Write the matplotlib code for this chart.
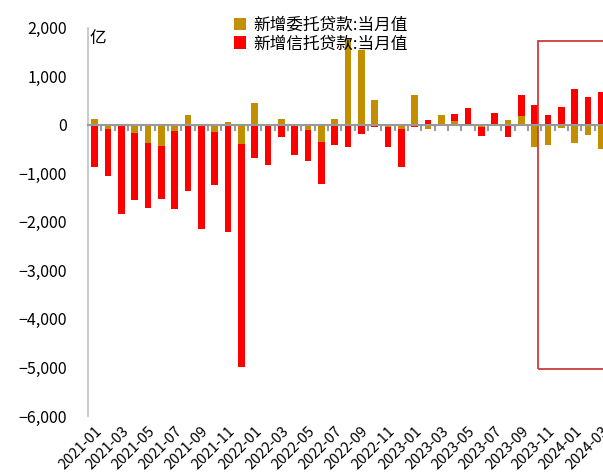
import matplotlib
matplotlib.use("Agg")
import matplotlib.pyplot as plt
from matplotlib.patches import Rectangle
from matplotlib.ticker import FuncFormatter
import numpy as np

plt.rcParams['font.family'] = ['Noto Sans CJK SC', 'DejaVu Sans']
plt.rcParams['axes.unicode_minus'] = True

# monthly values, 2021-01 .. 2024-03 (亿元)
months = [f"{y}-{m:02d}" for y in (2021, 2022, 2023) for m in range(1, 13)] + \
         ["2024-01", "2024-02", "2024-03"]

entrusted = [115, -80, -10, -179, -378, -447, -124, 200, 5, -158, 55, -398,
             447, -35, 124, -12, -103, -350, 117, 1773, 1533, 502, -55, -82,
             604, -82, 192, 82, 0, -55, 0, 103, 186, -467, -412, -69,
             -385, -206, -495]

trust = [-860, -970, -1830, -1367, -1340, -1079, -1615, -1361, -2150, -1093, -2212, -4585,
         -687, -804, -254, -610, -653, -866, -412, -467, -193, -55, -405, -778,
         -55, 89, -35, 145, 344, -179, 240, -247, 433, 412, 206, 364,
         735, 577, 680]

legend_labels = ["新增委托贷款:当月值", "新增信托贷款:当月值"]
gold = "#C28F00"
red = "#FF0000"

# highlight box (x in category units, y in data units)
box_x0, box_y0, box_y1 = 33.25, -5040, 1730

x = np.arange(len(months))
ent = np.array(entrusted, dtype=float)
tru = np.array(trust, dtype=float)
# stacked: same-sign values pile on top of each other
tru_bottom = np.where(np.sign(tru) == np.sign(ent), ent, 0)

fig = plt.figure(figsize=(6.03, 4.75), dpi=100)
ax = fig.add_axes([88 / 603, 59 / 475, 520 / 603, 388.3 / 475])

ax.bar(x, ent, width=0.5, color=gold, edgecolor="none", label=legend_labels[0], zorder=2)
ax.bar(x, tru, width=0.5, bottom=tru_bottom, color=red, edgecolor="none",
       label=legend_labels[1], zorder=2)

ax.set_xlim(-0.5, len(months) - 0.5)
ax.set_ylim(-6000, 2000)
ax.set_yticks(np.arange(-6000, 2001, 1000))
ax.yaxis.set_major_formatter(FuncFormatter(lambda v, p: f"{int(v):,}".replace("-", "\u2212")))
ax.tick_params(axis="y", length=0, labelsize=11.5, pad=15)

# zero line with category-boundary ticks pointing down
ax.spines["bottom"].set_position(("data", 0))
ax.spines["bottom"].set_color("#999999")
ax.spines["bottom"].set_linewidth(1.5)
ax.spines["bottom"].set_zorder(3)
ax.set_xticks([])
ax.set_xticks(x[:-1] + 0.5, minor=True)
ax.tick_params(axis="x", which="minor", length=4, width=1.5, color="#999999", direction="out")

for s in ["top", "right"]:
    ax.spines[s].set_visible(False)
ax.spines["left"].set_color("#c0c0c0")
ax.spines["left"].set_linewidth(1.2)

# month labels at the bottom of the plot
lab = ax.secondary_xaxis("bottom")
lab.set_xticks(x[::2])
lab.set_xticklabels(months[::2], rotation=45, ha="right", rotation_mode="anchor", fontsize=10.5)
lab.tick_params(length=0, pad=6)
lab.spines["bottom"].set_visible(False)

ax.add_patch(Rectangle((box_x0, box_y0), 10, box_y1 - box_y0, fill=False,
                       edgecolor="#D03A3A", linewidth=1.3, zorder=3, clip_on=False))

ax.text(0.003, 0.995, "亿", transform=ax.transAxes, fontsize=12, va="top", ha="left")

fig.legend(loc="upper left", bbox_to_anchor=(222 / 603, 1 - 5 / 475), frameon=False,
           fontsize=12, handlelength=0.75, handleheight=0.75, handletextpad=0.45,
           labelspacing=0.1, borderpad=0.2)

fig.savefig("out.png", dpi=100)
